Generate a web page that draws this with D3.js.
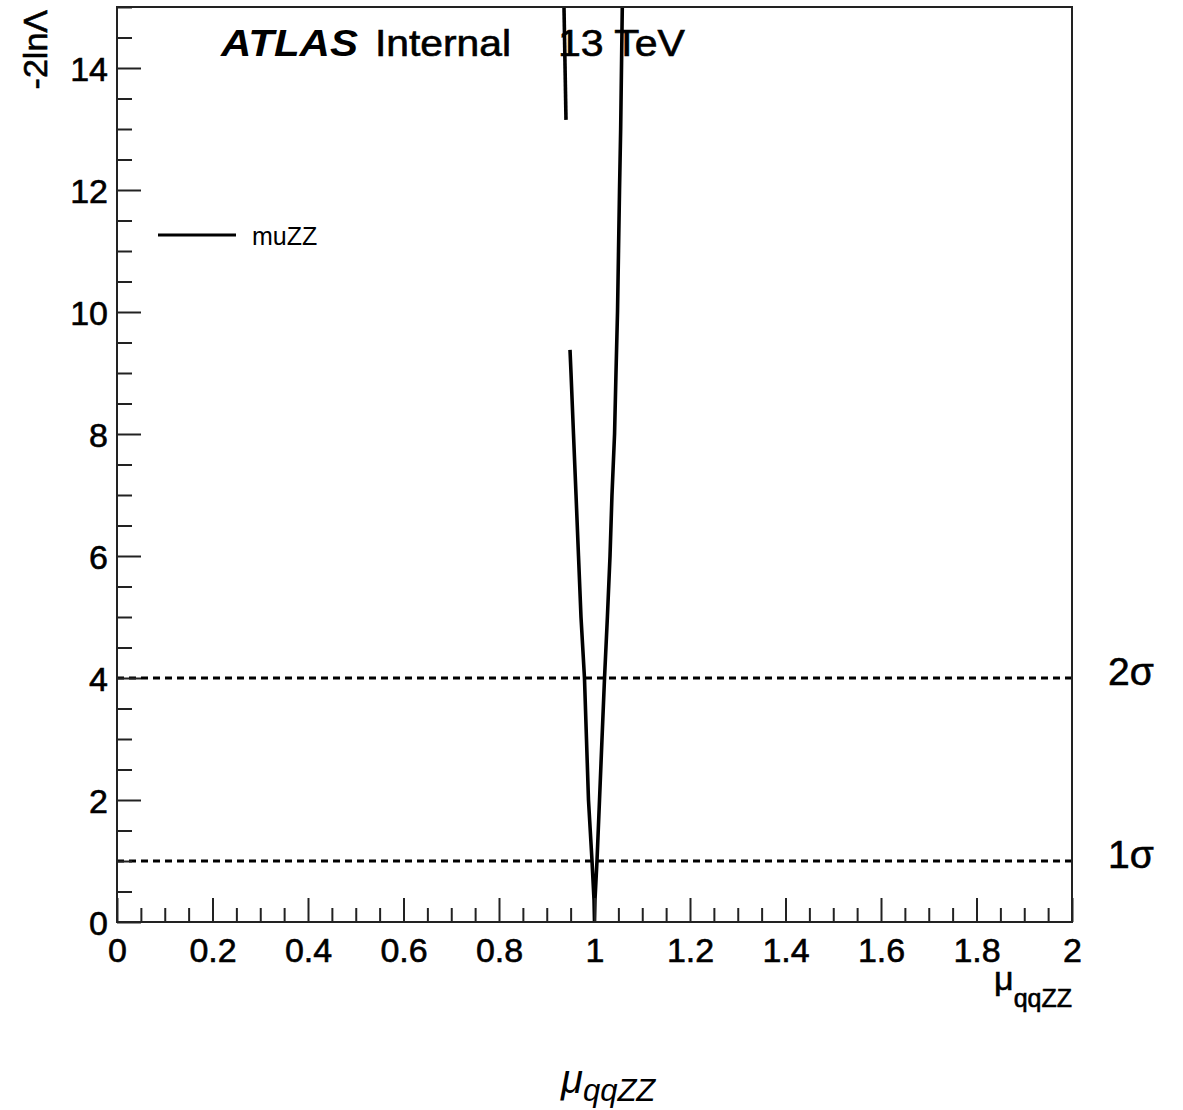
<!DOCTYPE html>
<html>
<head>
<meta charset="utf-8">
<script src="https://cdn.jsdelivr.net/npm/d3@7"></script>
<style>
  html, body { margin: 0; padding: 0; background: #fff; }
  svg { display: block; }
  text { font-family: "Liberation Sans", Arial, Helvetica, sans-serif; fill: #000; }
  .heavy { stroke: #000; stroke-width: 0.6px; }
</style>
</head>
<body>
<svg id="chart" width="1183" height="1110"></svg>
<script>
// ---- data ----
const xTicks = [0, 0.2, 0.4, 0.6, 0.8, 1, 1.2, 1.4, 1.6, 1.8, 2];
const xTickLabels = ["0", "0.2", "0.4", "0.6", "0.8", "1", "1.2", "1.4", "1.6", "1.8", "2"];
const yTicks = [0, 2, 4, 6, 8, 10, 12, 14];
const yTickLabels = ["0", "2", "4", "6", "8", "10", "12", "14"];

// upper-left fragment of the scan
const scanUpperMu  = [0.9361, 0.9403];
const scanUpperNll = [15.0, 13.15];
// main scan branch (left side down to minimum, then right side up)
const scanMainMu  = [0.9487, 0.9508, 0.956, 0.9613, 0.9665, 0.9717, 0.979, 0.9832, 0.9874, 0.9948, 0.999, 1.000,
                     1.001, 1.0052, 1.0105, 1.0157, 1.021, 1.027, 1.0325, 1.0366, 1.042, 1.045, 1.0482, 1.0503, 1.0524, 1.0548, 1.0565, 1.0582];
const scanMainNll = [9.38, 9, 8, 7, 6, 5, 4, 3, 2, 1, 0.36, 0,
                     0.36, 1, 2, 3, 4, 5, 6, 7, 8, 9, 10, 11, 12, 13, 14, 15];
const sigmaLevels = [1, 4];
const sigmaLabels = ["1σ", "2σ"];
const seriesName = "muZZ";

// ---- layout ----
const svg = d3.select("#chart");
const X0 = 117, X1 = 1072, Y0 = 922, Y1 = 7;
const x = d3.scaleLinear().domain([0, 2]).range([X0, X1]);
const y = d3.scaleLinear().domain([0, 15]).range([Y0, Y1]);

svg.append("rect").attr("width", 1183).attr("height", 1110).attr("fill", "#fff");

const plot = svg.append("g");
svg.append("clipPath").attr("id", "clip")
  .append("rect").attr("x", X0).attr("y", Y1).attr("width", X1 - X0).attr("height", Y0 - Y1);

// sigma lines
plot.selectAll(".sig").data(sigmaLevels).join("line")
  .attr("x1", X0).attr("x2", X1)
  .attr("y1", d => y(d)).attr("y2", d => y(d))
  .attr("stroke", "#000").attr("stroke-width", 3)
  .attr("stroke-dasharray", "7,5");

// curves
const line = d3.line().x(d => x(d[0])).y(d => y(d[1]));
const curves = plot.append("g").attr("clip-path", "url(#clip)");
curves.append("path").datum(d3.zip(scanUpperMu, scanUpperNll))
  .attr("d", line).attr("fill", "none").attr("stroke", "#000").attr("stroke-width", 3.6);
curves.append("path").datum(d3.zip(scanMainMu, scanMainNll))
  .attr("d", line).attr("fill", "none").attr("stroke", "#000").attr("stroke-width", 3.6)
  .attr("stroke-linejoin", "miter");

// axes
const fontSize = 34;
const xMinor = d3.range(0, 2.0001, 0.05).filter(v => Math.abs(v / 0.2 - Math.round(v / 0.2)) > 1e-6);
const yMinor = d3.range(0, 15.0001, 0.5).filter(v => Math.abs(v / 2 - Math.round(v / 2)) > 1e-6);

const xAxis = d3.axisBottom(x).tickValues(xTicks).tickSize(-24).tickPadding(16)
  .tickFormat((d, i) => xTickLabels[i]);
const gx = svg.append("g").attr("transform", `translate(0,${Y0})`).call(xAxis);
gx.select(".domain").remove();
gx.selectAll(".tick line").attr("stroke", "#222").attr("stroke-width", 2);
gx.selectAll(".tick text").attr("font-size", fontSize).attr("class", "heavy")
  .attr("font-family", "Liberation Sans, Arial, sans-serif");
svg.append("g").attr("transform", `translate(0,${Y0})`)
  .call(d3.axisBottom(x).tickValues(xMinor).tickSize(-14).tickFormat(""))
  .call(g => g.select(".domain").remove())
  .selectAll(".tick line").attr("stroke", "#222").attr("stroke-width", 2);

const yAxis = d3.axisLeft(y).tickValues(yTicks).tickSize(-24).tickPadding(9)
  .tickFormat((d, i) => yTickLabels[i]);
const gy = svg.append("g").attr("transform", `translate(${X0},0)`).call(yAxis);
gy.select(".domain").remove();
gy.selectAll(".tick line").attr("stroke", "#222").attr("stroke-width", 2);
gy.selectAll(".tick text").attr("font-size", fontSize).attr("dy", "0.38em").attr("class", "heavy")
  .attr("font-family", "Liberation Sans, Arial, sans-serif");
svg.append("g").attr("transform", `translate(${X0},0)`)
  .call(d3.axisLeft(y).tickValues(yMinor).tickSize(-15).tickFormat(""))
  .call(g => g.select(".domain").remove())
  .selectAll(".tick line").attr("stroke", "#222").attr("stroke-width", 2);

// frame
svg.append("rect").attr("x", X0).attr("y", Y1).attr("width", X1 - X0).attr("height", Y0 - Y1)
  .attr("fill", "none").attr("stroke", "#222").attr("stroke-width", 2);

// axis titles
svg.append("text").attr("transform", `translate(47,10) rotate(-90)`).attr("class", "heavy")
  .attr("text-anchor", "end").attr("font-size", fontSize).text("-2lnΛ");

const xt = svg.append("text").attr("x", X1).attr("y", 990).attr("text-anchor", "end").attr("class", "heavy");
xt.append("tspan").attr("font-size", 34).text("μ");
xt.append("tspan").attr("font-size", 25).attr("dy", 17).text("qqZZ");

// ATLAS label
const lab = svg.append("g");
lab.append("text").attr("x", 221).attr("y", 56).attr("font-size", 36)
  .attr("font-weight", "bold").attr("font-style", "italic")
  .attr("textLength", 137).attr("lengthAdjust", "spacingAndGlyphs").text("ATLAS");
lab.append("text").attr("x", 375).attr("y", 56).attr("font-size", 36).attr("class", "heavy")
  .attr("textLength", 136).attr("lengthAdjust", "spacingAndGlyphs").text("Internal");
lab.append("text").attr("x", 558).attr("y", 56).attr("font-size", 36).attr("class", "heavy")
  .attr("textLength", 127).attr("lengthAdjust", "spacingAndGlyphs").text("13 TeV");

// legend
svg.append("line").attr("x1", 158).attr("x2", 236).attr("y1", 235).attr("y2", 235)
  .attr("stroke", "#000").attr("stroke-width", 3);
svg.append("text").attr("x", 252).attr("y", 245).attr("font-size", 25).text(seriesName);

// sigma labels
svg.selectAll(".siglab").data(sigmaLevels).join("text")
  .attr("x", 1108).attr("y", d => y(d) + 7).attr("class", "heavy")
  .attr("font-size", 39).text((d, i) => sigmaLabels[i]);

// bottom title
const bt = svg.append("text").attr("x", 561).attr("y", 1093)
  .attr("font-family", "DejaVu Serif, Liberation Serif, serif").attr("font-style", "italic");
bt.append("tspan").attr("font-size", 40).text("μ");
bt.append("tspan").attr("font-size", 31).attr("dy", 8).text("qqZZ");
</script>
</body>
</html>
